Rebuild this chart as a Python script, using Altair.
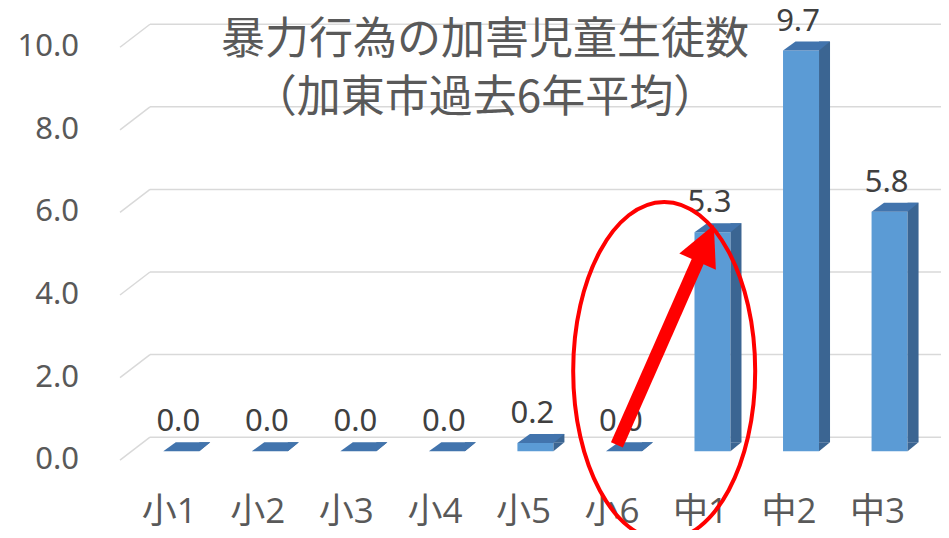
import altair as alt
import pandas as pd

# ---- data ----
categories = ["小1", "小2", "小3", "小4", "小5", "小6", "中1", "中2", "中3"]
values = [0.0, 0.0, 0.0, 0.0, 0.2, 0.0, 5.3, 9.7, 5.8]
tick_values = [0, 2, 4, 6, 8, 10]
title_lines = ["暴力行為の加害児童生徒数", "（加東市過去6年平均）"]

# annotation (in data units: category index, value)
ellipse_center = [5.59, 2.16]
arrow_start = [5.056, 0.369]
arrow_head = [6.059, 5.253]
arrow_angle = 24

# ---- style ----
W, H = 821, 522
FRONT = "#5b9bd5"
TOP = "#4274ad"
SIDE = "#3b6592"
GRID = "#d9d9d9"
RED = "#ff0000"

xs = alt.Scale(domain=[-0.5, 8.66], nice=False, zero=False)
ys = alt.Scale(domain=[-1.69, 10.95], nice=False, zero=False)

bars = pd.DataFrame({"i": list(range(len(categories))), "cat": categories, "v": values,
                     "base": [0.0] * len(values)})
grid = pd.DataFrame({"v": tick_values})

X = alt.X("i:Q", scale=xs, axis=None)
Y = alt.Y("v:Q", scale=ys, axis=None)

TOP_SHAPE = "M-1,0.1915L0.5319,0.1915L1,-0.1915L-0.4681,-0.1915Z"
TRI_SHAPE = "M-1,-0.818L1,-0.818L-1,0.818Z"
ELLIPSE = ("M0.5385,0C0.5385,0.5523,0.2974,1,0,1C-0.2974,1,-0.5385,0.5523,-0.5385,0"
           "C-0.5385,-0.5523,-0.2974,-1,0,-1C0.2974,-1,0.5385,-0.5523,0.5385,0Z")
HEAD = "M0,-1L1,1L-1,1Z"

grid_back = alt.Chart(grid).mark_rule(color=GRID, strokeWidth=1.5, yOffset=-23).encode(
    x=alt.value(30), x2=alt.value(W), y=Y)
grid_side = alt.Chart(grid).mark_rule(color=GRID, strokeWidth=1.5, y2Offset=-23).encode(
    x=alt.value(0), x2=alt.value(30), y=Y, y2="v:Q")
ylabels = alt.Chart(grid).mark_text(align="right", baseline="middle", font="Noto Sans",
                                    fontSize=31, color="#595959").encode(
    x=alt.value(-41), y=Y, text=alt.Text("v:Q", format=".1f"))

front = alt.Chart(bars).mark_bar(size=36, color=FRONT, xOffset=12, yOffset=-9, y2Offset=-9).encode(
    x=X, y=Y, y2="base:Q")
side = alt.Chart(bars).mark_bar(size=11, color=SIDE, xOffset=35.5, yOffset=-18, y2Offset=-18).encode(
    x=X, y=Y, y2="base:Q")
tri = alt.Chart(bars).mark_point(shape=TRI_SHAPE, size=121, filled=True, color=SIDE, opacity=1,
                                 strokeWidth=0, xOffset=35.5, yOffset=-13.5).encode(
    x=X, y=alt.Y("base:Q", scale=ys, axis=None))
top = alt.Chart(bars).mark_point(shape=TOP_SHAPE, size=2209, filled=True, color=TOP, opacity=1,
                                 strokeWidth=0, xOffset=17.5, yOffset=-13.5).encode(x=X, y=Y)

dlabels = alt.Chart(bars).mark_text(font="Noto Sans", fontSize=31, color="#404040",
                                    dx=9, dy=-29, baseline="alphabetic").encode(
    x=X, y=Y, text=alt.Text("v:Q", format=".1f"))
clabels = alt.Chart(bars).mark_text(font="Open Sans, Noto Sans CJK JP", fontSize=35, color="#595959",
                                    baseline="alphabetic").encode(
    x=X, y=alt.value(515), text="cat:N")

titles = pd.DataFrame({"t": title_lines, "row": [0, 1]})
t1 = alt.Chart(titles).transform_filter("datum.row == 0").mark_text(
    font="Noto Sans CJK JP", fontSize=44, color="#595959", baseline="middle").encode(
    x=alt.value(365), y=alt.value(33), text="t:N")
t2 = alt.Chart(titles).transform_filter("datum.row == 1").mark_text(
    font="Noto Sans CJK JP", fontSize=44, color="#595959", baseline="middle").encode(
    x=alt.value(365), y=alt.value(91), text="t:N")

ann_e = pd.DataFrame({"x": [ellipse_center[0]], "y": [ellipse_center[1]]})
ann_a = pd.DataFrame({"x": [arrow_start[0]], "y": [arrow_start[1]],
                      "x2": [arrow_head[0]], "y2": [arrow_head[1]]})
ann_h = pd.DataFrame({"x": [arrow_head[0]], "y": [arrow_head[1]]})
AX = alt.X("x:Q", scale=xs, axis=None)
AY = alt.Y("y:Q", scale=ys, axis=None)

ell = alt.Chart(ann_e).mark_point(shape=ELLIPSE, size=114244, filled=False, color=RED,
                                  strokeWidth=4, opacity=1).encode(x=AX, y=AY)
shaft = alt.Chart(ann_a).mark_rule(color=RED, strokeWidth=13).encode(x=AX, y=AY, x2="x2:Q", y2="y2:Q")
head = alt.Chart(ann_h).mark_point(shape=HEAD, size=1600, filled=True, color=RED, opacity=1,
                                   strokeWidth=0, angle=arrow_angle).encode(x=AX, y=AY)

chart = alt.layer(
    grid_back, grid_side, ylabels, front, side, tri, top, dlabels, clabels, t1, t2, ell, shaft, head
).properties(
    width=W, height=H,
    padding={"left": 112, "top": 0, "right": 0, "bottom": 0},
    autosize=alt.AutoSizeParams(type="none"),
    background="white",
).configure_view(stroke=None)

chart.save("out.html", embed_options={"renderer": "svg", "actions": False})
